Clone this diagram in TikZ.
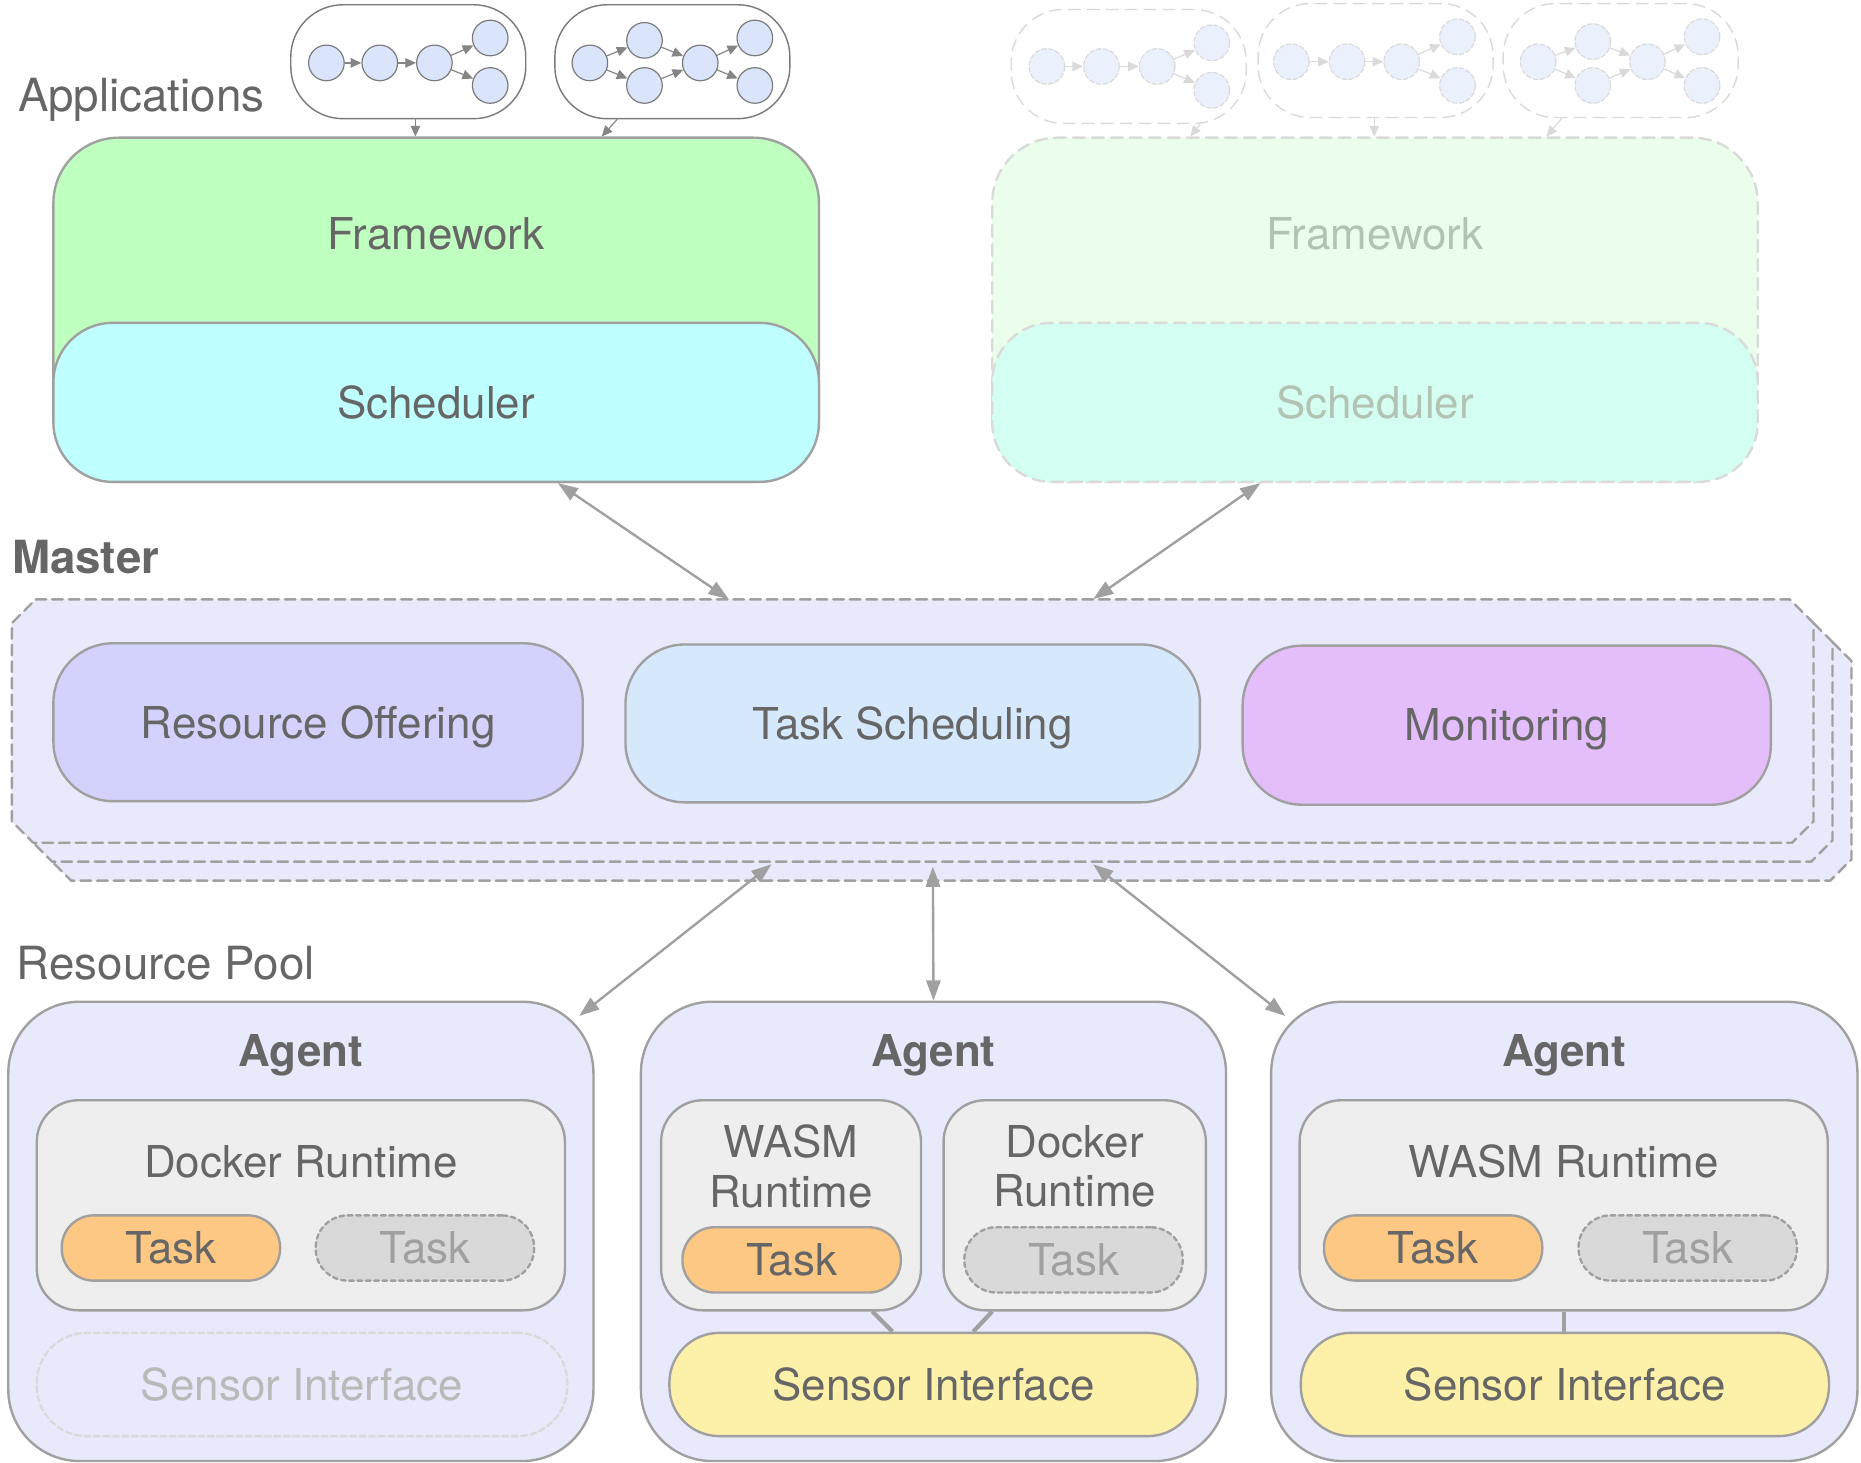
\documentclass[tikz,border=0pt]{standalone}
\usepackage{fontspec}
\setmainfont{TeX Gyre Heros}
\usetikzlibrary{arrows.meta}
\usetikzlibrary{positioning}

\definecolor{txtgray}{HTML}{666666}
\definecolor{linegray}{HTML}{A0A0A0}
\definecolor{appline}{HTML}{7A7A7A}
\definecolor{apparrow}{HTML}{858585}
\definecolor{ghostline}{HTML}{DADADA}
\definecolor{fadetxt}{HTML}{B3C3B3}
\definecolor{fwgreen}{HTML}{BFFFBF}
\definecolor{schedcyan}{HTML}{BFFFFF}
\definecolor{fwfade}{HTML}{EBFDEB}
\definecolor{schedfade}{HTML}{D5FEF3}
\definecolor{lavender}{HTML}{E9E9FC}
\definecolor{offerblue}{HTML}{D2D2FC}
\definecolor{schedblue}{HTML}{D6E9FC}
\definecolor{monpurple}{HTML}{E3BEFB}
\definecolor{rtgray}{HTML}{EEEEEE}
\definecolor{taskorange}{HTML}{FDC883}
\definecolor{taskgray}{HTML}{D9D9D9}
\definecolor{sensoryellow}{HTML}{FDF0A9}
\definecolor{jobblue}{HTML}{DAE5FC}
\definecolor{jobfade}{HTML}{EAF0FC}

\newcommand{\diagfont}{\fontsize{37}{42}\selectfont}
\newcommand{\headfont}{\fontsize{38.5}{44}\selectfont}

\tikzset{
  title/.style={font=\diagfont, text=txtgray, inner sep=0pt, text height=26.6pt, text depth=0pt},
  twoline/.style={font=\diagfont, text=txtgray, inner sep=0pt, align=center},
  box/.style={draw=linegray, line width=2pt, inner sep=0pt, font=\diagfont, text=txtgray,
    text height=26.6pt, text depth=0pt, rounded corners=#1},
  ghost/.style={draw=ghostline, dash pattern=on 10pt off 6pt},
  appbox/.style={draw=appline, line width=1.2pt, rounded corners=44pt, minimum width=198pt, minimum height=96pt},
  job/.style={circle, draw=appline, line width=1pt, fill=jobblue, minimum size=30pt, inner sep=0pt},
  ghostjob/.style={job, draw=ghostline, fill=jobfade, dash pattern=on 4pt off 2pt},
  jobarrow/.style={color=apparrow, line width=1pt, -{Triangle[length=9pt,width=8pt]}},
  ghostarrow/.style={jobarrow, color=ghostline},
  biarrow/.style={draw=linegray, line width=2pt, {Triangle[length=17pt,width=12pt]}-{Triangle[length=17pt,width=12pt]}},
  link/.style={draw=linegray, line width=3.5pt, line cap=butt},
  layer/.style={fill=lavender, draw=linegray, line width=2pt, dash pattern=on 9pt off 5pt},
  runtime/.style={box=35pt, fill=rtgray, minimum height=177pt},
  task/.style={box=27pt, fill=taskorange, minimum width=184pt, minimum height=55pt},
  ghosttask/.style={box=27pt, fill=taskgray, text=linegray, dash pattern=on 4pt off 3pt, minimum width=184pt, minimum height=55pt},
  sensor/.style={box=42pt, fill=sensoryellow, minimum height=87pt},
  agentbox/.style={box=60pt, fill=lavender, minimum width=493pt, minimum height=387pt}
}

\begin{document}
\begin{tikzpicture}[line cap=round,line join=round,x=1pt,y=-1pt]
\useasboundingbox (0,0) rectangle (1568,1232.6);

% applications
\node[title, font=\headfont, anchor=west] (apptitle) at (15,81) {Applications};
\node[appbox] (app1) at (344,52) {};
\node[appbox] (app2) at (566.5,52) {};
\node[appbox, ghost, line width=1.2pt] (app3) at (951,56) {};
\node[appbox, ghost, line width=1.2pt] (app4) at (1159,51) {};
\node[appbox, ghost, line width=1.2pt] (app5) at (1365.5,51) {};

\node[job] (a1) at (275,53) {};
\node[job] (a2) at (320,53) {};
\node[job] (a3) at (366,53) {};
\node[job] (a4) at (413,32) {};
\node[job] (a5) at (413,72) {};
\draw[jobarrow] (a1) edge (a2) (a2) edge (a3) (a3) edge (a4) (a3) edge (a5);

\node[job] (b1) at (497,53) {};
\node[job] (b2) at (543,34) {};
\node[job] (b3) at (543,72) {};
\node[job] (b4) at (590,53) {};
\node[job] (b5) at (636,32) {};
\node[job] (b6) at (636,72) {};
\draw[jobarrow] (b1) edge (b2) (b1) edge (b3) (b2) edge (b4) (b3) edge (b4) (b4) edge (b5) (b4) edge (b6);

\node[ghostjob] (c1) at (882,56) {};
\node[ghostjob] (c2) at (928,56) {};
\node[ghostjob] (c3) at (975,56) {};
\node[ghostjob] (c4) at (1021,36) {};
\node[ghostjob] (c5) at (1021,76) {};
\draw[ghostarrow] (c1) edge (c2) (c2) edge (c3) (c3) edge (c4) (c3) edge (c5);

\node[ghostjob] (d1) at (1088,52) {};
\node[ghostjob] (d2) at (1135,52) {};
\node[ghostjob] (d3) at (1181,52) {};
\node[ghostjob] (d4) at (1228,31) {};
\node[ghostjob] (d5) at (1228,72) {};
\draw[ghostarrow] (d1) edge (d2) (d2) edge (d3) (d3) edge (d4) (d3) edge (d5);

\node[ghostjob] (e1) at (1296,52) {};
\node[ghostjob] (e2) at (1342,35) {};
\node[ghostjob] (e3) at (1342,72) {};
\node[ghostjob] (e4) at (1388,52) {};
\node[ghostjob] (e5) at (1434,31) {};
\node[ghostjob] (e6) at (1434,72) {};
\draw[ghostarrow] (e1) edge (e2) (e1) edge (e3) (e2) edge (e4) (e3) edge (e4) (e4) edge (e5) (e4) edge (e6);

% frameworks
\node[box=55pt, fill=fwgreen, minimum width=645pt, minimum height=290pt] (fw1) at (367.5,261) {};
\node[title, below=68.7pt of fw1.north] (fw1txt) {Framework};
\node[box=50pt, fill=schedcyan, minimum width=645pt, minimum height=134pt] (sched1) at (367.5,339) {Scheduler};

\node[box=55pt, fill=fwfade, ghost, minimum width=645pt, minimum height=290pt] (fw2) at (1158.5,261) {};
\node[title, text=fadetxt, below=68.7pt of fw2.north] (fw2txt) {Framework};
\node[box=50pt, fill=schedfade, ghost, text=fadetxt, minimum width=645pt, minimum height=134pt] (sched2) at (1158.5,339) {Scheduler};

\draw[jobarrow] ([xshift=6pt]app1.south) -- ([xshift=-17.5pt]fw1.north);
\draw[jobarrow] ([xshift=-46.5pt]app2.south) -- ([xshift=139.5pt]fw1.north);
\draw[ghostarrow] ([xshift=60pt]app3.south) -- ([xshift=-155.5pt]fw2.north);
\draw[ghostarrow] ([xshift=-1pt]app4.south) -- ([xshift=-0.5pt]fw2.north);
\draw[ghostarrow] ([xshift=-49.5pt]app5.south) -- ([xshift=144.5pt]fw2.north);

% master, three stacked copies
\node[title, font=\headfont\bfseries, anchor=west] (mastertxt) at (10,470) {Master};
\foreach \s in {32,16,0}
  \draw[layer, shift={(\s,\s)}] (30,505) -- (1508,505) -- (1528,525) -- (1528,692) -- (1510,710)
    -- (28,710) -- (10,692) -- (10,525) -- cycle;
\node[minimum width=1518pt, minimum height=205pt, inner sep=0pt] (master) at (769,607.5) {};
\node[box=50pt, fill=offerblue, minimum width=446pt, minimum height=133pt] (offer) at (268,608.5) {Resource Offering};
\node[box=50pt, fill=schedblue, minimum width=484pt, minimum height=133pt] (tasksched) at (769,609.5) {Task Scheduling};
\node[box=50pt, fill=monpurple, minimum width=445pt, minimum height=134pt] (monitor) at (1269.5,611) {Monitoring};

\draw[biarrow] ([xshift=102.5pt]sched1.south) -- ([xshift=-155pt]master.north);
\draw[biarrow] ([xshift=-96.5pt]sched2.south) -- ([xshift=152pt]master.north);

% resource pool
\node[title, font=\headfont, anchor=west] (pooltxt) at (14,812) {Resource Pool};
\node[agentbox] (ag1) at (253.5,1037.5) {};
\node[agentbox] (ag2) at (786.5,1037.5) {};
\node[agentbox, minimum width=494pt] (ag3) at (1318,1037.5) {};
\node[title, font=\diagfont\bfseries, below=29pt of ag1.north] (ag1txt) {Agent};
\node[title, font=\diagfont\bfseries, below=29pt of ag2.north] (ag2txt) {Agent};
\node[title, font=\diagfont\bfseries, below=29pt of ag3.north] (ag3txt) {Agent};

\draw[biarrow] ([xshift=-119pt,yshift=-18pt]master.south) -- ([xshift=-13pt,yshift=-13pt]ag1.north east);
\draw[biarrow] ([xshift=17pt,yshift=-20pt]master.south) -- (ag2.north);
\draw[biarrow] ([xshift=152pt,yshift=-18pt]master.south) -- ([xshift=13pt,yshift=-13pt]ag3.north west);

% agent 1
\node[runtime, minimum width=445pt] (rt1) at (253.5,1015.5) {};
\node[title, below=39.7pt of rt1.north] (rt1txt) {Docker Runtime};
\node[task] (t11) at (144,1051.5) {Task};
\node[ghosttask] (t12) at (358,1051.5) {Task};
\node[box=42pt, draw=ghostline, text=ghostline!85!black, dash pattern=on 5pt off 3pt, minimum width=447pt, minimum height=87pt] (si1) at (254.5,1166.5) {Sensor Interface};

% agent 2
\node[runtime, minimum width=219pt] (rt2a) at (666.5,1015.5) {};
\node[twoline, below=21.7pt of rt2a.north] (rt2atxt) {WASM\\Runtime};
\node[task] (t21) at (667,1061.5) {Task};
\node[runtime, minimum width=221pt] (rt2b) at (905.5,1015.5) {};
\node[twoline, below=21.7pt of rt2b.north] (rt2btxt) {Docker\\Runtime};
\node[ghosttask] (t22) at (904.5,1061.5) {Task};
\node[sensor, minimum width=445pt] (si2) at (786.5,1166.5) {Sensor Interface};
\draw[link] ([xshift=68.5pt]rt2a.south) -- ([xshift=-34.5pt]si2.north);
\draw[link] ([xshift=-69.5pt]rt2b.south) -- ([xshift=33.5pt]si2.north);

% agent 3
\node[runtime, minimum width=445pt] (rt3) at (1317.5,1015.5) {};
\node[title, below=39.7pt of rt3.north] (rt3txt) {WASM Runtime};
\node[task] (t31) at (1207.5,1051.5) {Task};
\node[ghosttask] (t32) at (1422,1051.5) {Task};
\node[sensor, minimum width=445pt] (si3) at (1318.5,1166.5) {Sensor Interface};
\draw[link] (rt3.south) -- (rt3.south |- si3.north);
\end{tikzpicture}
\end{document}
